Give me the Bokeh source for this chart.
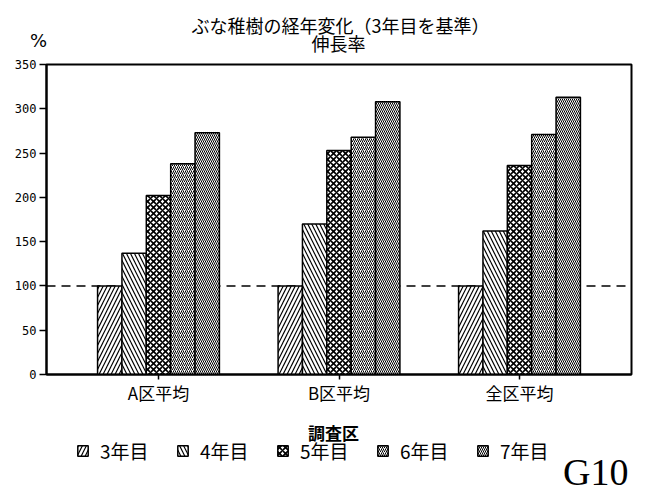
from bokeh.plotting import figure
from bokeh.layouts import column
from bokeh.models import (ColumnDataSource, FactorRange, FixedTicker, Span,
                          Label, Legend, LegendItem)
from bokeh.transform import dodge
from bokeh.embed import file_html
from bokeh.resources import INLINE

# Growth rate of beech saplings, relative to year 3 (= 100 %)
areas = ["A区平均", "B区平均", "全区平均"]
years = ["3年目", "4年目", "5年目", "6年目", "7年目"]
year3 = [100, 100, 100]
year4 = [137, 170, 162]
year5 = [202, 253, 236]
year6 = [238, 268, 271]
year7 = [273, 308, 313]
y_ticks = [0, 50, 100, 150, 200, 250, 300, 350]
reference_level = 100

JP = "Noto Sans CJK JP"
W = 650
FRAME_LEFT = 46

source = ColumnDataSource(dict(area=areas, y3=year3, y4=year4, y5=year5,
                               y6=year6, y7=year7))
cols = ["y3", "y4", "y5", "y6", "y7"]
patterns = ["/", "\\", "x", "/", "\\"]
scales = [8, 8, 6, 4, 4]
weights = [1.2, 1.2, 1.6, 1.0, 1.0]
bar_w = 0.135


def unalign(f):
    """Keep each strip's own frame instead of lining it up with the chart."""
    if hasattr(f, "frame_align"):
        f.frame_align = False
        return True
    return False


def text_strip(height):
    """Axis-less strip used for the texts above and below the chart."""
    f = figure(width=W, height=height, x_axis_type=None, y_axis_type=None,
               output_backend="svg", toolbar_location=None, min_border=0)
    f.outline_line_color = None
    f.background_fill_color = "white"
    f.border_fill_color = "white"
    return f


# ---- heading ---------------------------------------------------------
head = text_strip(54)
free = unalign(head)
ox = 0 if free else FRAME_LEFT   # strip frame origin on the page


def lab(fig, x, y, text, **kw):
    style = dict(text_font=JP, text_font_size="18px", text_align="center",
                 text_baseline="middle", text_color="black")
    style.update(kw)
    fig.add_layout(Label(x=x - ox, y=y, x_units="screen", y_units="screen",
                         text=text, **style))


lab(head, 340, 30, "ぶな稚樹の経年変化（3年目を基準）")
lab(head, 338, 12, "伸長率")
lab(head, 38 if free else ox + 8, 14, "%", text_font="DejaVu Sans")

# ---- bar chart -------------------------------------------------------
p = figure(x_range=FactorRange(*areas, range_padding=0.0803),
           y_range=(0, 350), width=W, height=356,
           output_backend="svg", toolbar_location=None,
           min_border_left=FRAME_LEFT, min_border_right=19,
           min_border_top=10, min_border_bottom=36)
unalign(p)
p.background_fill_color = "white"
p.border_fill_color = "white"
p.outline_line_color = "black"
p.outline_line_width = 2
p.xgrid.grid_line_color = None
p.ygrid.grid_line_color = None

# dashed reference line at 100 %, behind the bars
p.add_layout(Span(location=reference_level, dimension="width",
                  line_color="black", line_width=1.5, line_dash="9 6",
                  level="underlay"))

bar_style = []
for i in range(len(cols)):
    bar_style.append(dict(fill_color="white", line_color="black",
                          line_width=1.5, hatch_pattern=patterns[i],
                          hatch_color="black", hatch_scale=scales[i],
                          hatch_weight=weights[i]))

for i, col in enumerate(cols):
    p.vbar(x=dodge("area", (i - 2) * bar_w, range=p.x_range), top=col,
           width=bar_w, source=source, **bar_style[i])

p.yaxis.ticker = FixedTicker(ticks=y_ticks)
p.yaxis.minor_tick_line_color = None
p.yaxis.major_tick_in = 0
p.yaxis.major_tick_out = 7
p.yaxis.major_label_standoff = 3
p.yaxis.major_label_text_font = "DejaVu Sans Mono"
p.yaxis.major_label_text_font_size = "12px"
p.yaxis.major_label_text_color = "black"

p.xaxis.major_tick_in = 0
p.xaxis.major_tick_out = 5
p.xaxis.major_label_standoff = 0
p.xaxis.major_label_text_font = JP
p.xaxis.major_label_text_font_size = "17px"
p.xaxis.major_label_text_color = "black"

for ax in (p.xaxis, p.yaxis):
    ax.axis_line_color = "black"
    ax.axis_line_width = 2
    ax.major_tick_line_color = "black"
    ax.major_tick_line_width = 1.5

# ---- axis title, legend and sheet mark -------------------------------
foot = text_strip(81)
unalign(foot)
items = []
for i, (col, name) in enumerate(zip(cols, years)):
    # legend swatches share the chart's source; the bars themselves are hidden here
    r = foot.vbar(x=dodge("area", (i - 2) * bar_w, range=p.x_range), top=col,
                  width=bar_w, source=source, visible=False, **bar_style[i])
    items.append(LegendItem(label=name, renderers=[r]))

lab(foot, 333, 59, "調査区", text_font_style="bold", text_font_size="17px")

legend = Legend(items=items, orientation="horizontal", location=(76 - ox, 27),
                glyph_width=13, glyph_height=13, label_standoff=11,
                label_width=57, spacing=19, padding=0, margin=0,
                border_line_color=None, background_fill_alpha=0,
                label_text_font=JP, label_text_font_size="19px",
                label_text_color="black")
foot.add_layout(legend, "center")

lab(foot, 628, 20, "G10", text_font="Liberation Serif",
    text_font_size="38px", text_align="right")

layout = column(head, p, foot, spacing=0)
open("out.html", "w").write(file_html(layout, INLINE))
